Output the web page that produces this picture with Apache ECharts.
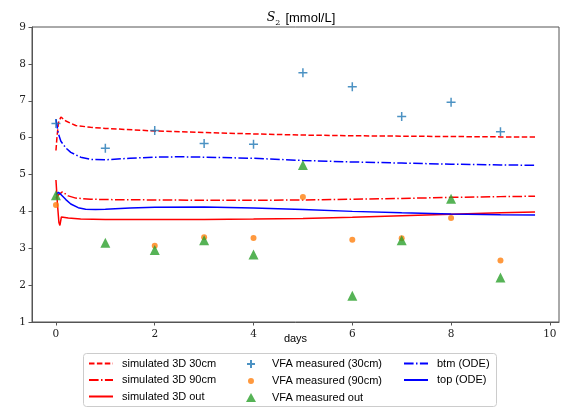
<!DOCTYPE html>
<html><head><meta charset="utf-8">
<script src="https://cdn.jsdelivr.net/npm/echarts@6/dist/echarts.min.js"></script>
<style>html,body{margin:0;padding:0;background:#fff}#c{width:566px;height:408px}</style>
</head><body><div id="c"></div>
<script>
// ---- data ----
const days = [0,1,2,3,4,5,6,7,8,9];
const vfa30 = [6.38,5.71,6.19,5.84,5.82,7.76,7.38,6.57,6.96,6.16];
const vfa90 = [4.17,null,3.07,3.30,3.28,4.39,3.23,3.27,3.82,2.67];
const vfaOut = [4.44,3.15,2.95,3.22,2.83,5.26,1.71,3.22,4.34,2.21];

const tSim30 = [0,0.02,0.05,0.1,0.2,0.4,0.7,1,2,3,4,5,6,7,8,9,9.7];
const sim30  = [5.65,6.0,6.4,6.56,6.45,6.33,6.28,6.25,6.18,6.14,6.10,6.07,6.05,6.04,6.03,6.02,6.02];
const tSim90 = [0,0.05,0.13,0.25,0.4,0.7,1,2,3,4,5,6,7,8,9,9.7];
const sim90  = [4.35,4.45,4.53,4.42,4.36,4.33,4.32,4.31,4.30,4.30,4.31,4.33,4.35,4.38,4.40,4.41];
const tSimOut = [0,0.03,0.06,0.08,0.11,0.15,0.25,0.5,1,2,3,4,5,6,7,8,9,9.7];
const simOut  = [4.85,4.2,3.7,3.62,3.85,3.88,3.82,3.79,3.78,3.78,3.78,3.79,3.81,3.84,3.88,3.92,3.96,3.98];
const tBtm = [0,0.05,0.1,0.2,0.3,0.5,0.7,1,1.5,2,2.5,3,4,5,6,7,8,9,9.7];
const btmOde  = [6.5,6.1,5.9,5.72,5.6,5.47,5.41,5.40,5.44,5.47,5.48,5.47,5.44,5.38,5.34,5.31,5.28,5.26,5.25];
const tTop = [0,0.05,0.1,0.2,0.3,0.45,0.6,0.8,1,1.5,2,3,4,5,6,7,8,9,9.7];
const topOde  = [4.45,4.52,4.46,4.32,4.2,4.1,4.06,4.05,4.06,4.09,4.11,4.12,4.09,4.05,4.0,3.96,3.93,3.91,3.9];
const xTicks = [0,2,4,6,8,10];

const pairs = (xs, ys) => xs.map((x,i)=>[x,ys[i]]).filter(p=>p[1]!==null);

const chart = echarts.init(document.getElementById('c'), null, {renderer:'canvas'});
const dashed = [5.5,2.4], dashdot = [9.6,2.4,1.5,2.4];
const lineSeries = (name, t, v, color, type) => ({
  name, type:'line', data: pairs(t,v), symbol:'none', showSymbol:false,
  lineStyle:{color, width:1.5, type}, itemStyle:{color}, z:2, animation:false
});
const serif = 'DejaVu Serif';
const sans = 'Liberation Sans';
const legTxt = {fontFamily:sans, fontSize:11, lineHeight:10, color:'#000', padding:[0,0,0,4]};
const legBase = {top:358, padding:0, orient:'vertical', itemWidth:24, itemHeight:10, itemGap:5.5, textStyle:legTxt, selectedMode:false};

chart.setOption({
  animation:false,
  title:{text:'{i|S}{s|2} {t|[mmol/L]}', left:296, top:4, textAlign:'center',
    textStyle:{fontWeight:'normal', rich:{
      i:{fontFamily:serif, fontStyle:'italic', fontWeight:'normal', fontSize:12.5, color:'#000'},
      s:{fontFamily:serif, fontWeight:'normal', fontSize:8, color:'#000', verticalAlign:'bottom', padding:[5,0,0,0]},
      t:{fontFamily:sans, fontWeight:'normal', fontSize:13, color:'#000'}}}},
  grid:{left:32, right:7, top:27, bottom:86, show:true, borderColor:'#555', borderWidth:1},
  xAxis:{type:'value', min:-0.485, max:10.185,
    name:'days', nameLocation:'middle', nameGap:11, nameMoveOverlap:false,
    nameTextStyle:{fontFamily:sans, fontSize:11, color:'#000'},
    axisLine:{show:true, onZero:false, lineStyle:{color:'#555', width:1}},
    axisTick:{show:true, length:3.5, customValues:xTicks, lineStyle:{color:'#555'}},
    axisLabel:{customValues:xTicks, margin:7, fontFamily:serif, fontSize:10.5, color:'#222'},
    splitLine:{show:false}},
  yAxis:{type:'value', min:1, max:9, interval:1,
    axisLine:{show:true, onZero:false, lineStyle:{color:'#555', width:1}},
    axisTick:{show:true, length:3.5, lineStyle:{color:'#555'}},
    axisLabel:{margin:6, fontFamily:serif, fontSize:10.5, color:'#222'},
    splitLine:{show:false}},
  legend:[
    Object.assign({}, legBase, {left:88, itemStyle:{opacity:0}, data:['simulated 3D 30cm','simulated 3D 90cm','simulated 3D out']}),
    Object.assign({}, legBase, {left:245, itemWidth:10, textStyle:Object.assign({}, legTxt, {padding:[0,0,0,11]}), data:[
      {name:'VFA measured (30cm)', icon:'path://M0,0M10,10M5,1L5,9M1,5L9,5'},
      {name:'VFA measured (90cm)', icon:'path://M0,0M10,10M5,2A3,3 0 1 1 4.99,2Z'},
      {name:'VFA measured out', icon:'path://M0,0M10,10M5,0.5L10,9.5L0,9.5Z'}]}),
    Object.assign({}, legBase, {left:403, itemStyle:{opacity:0}, data:['btm (ODE)','top (ODE)']})
  ],
  graphic:[{type:'rect', shape:{x:83.5, y:353.5, width:413, height:53, r:3},
    style:{fill:'rgba(255,255,255,0.8)', stroke:'#ccc', lineWidth:1}, z:-1}],
  series:[
    lineSeries('simulated 3D 30cm', tSim30, sim30, '#ff0000', dashed),
    lineSeries('simulated 3D 90cm', tSim90, sim90, '#ff0000', dashdot),
    lineSeries('simulated 3D out', tSimOut, simOut, '#ff0000', 'solid'),
    {name:'VFA measured (30cm)', type:'scatter', data:pairs(days,vfa30),
      symbol:'path://M5,0L5,10M0,5L10,5', symbolSize:9,
      itemStyle:{color:'rgba(0,0,0,0)', borderColor:'#1f77b4', borderWidth:1.5}, z:3},
    {name:'VFA measured (90cm)', type:'scatter', data:pairs(days,vfa90),
      symbol:'circle', symbolSize:6, itemStyle:{color:'#ff7f0e'}, z:3},
    {name:'VFA measured out', type:'scatter', data:pairs(days,vfaOut),
      symbol:'triangle', symbolSize:10, itemStyle:{color:'#2ca02c'}, z:4},
    lineSeries('btm (ODE)', tBtm, btmOde, '#0000ff', dashdot),
    lineSeries('top (ODE)', tTop, topOde, '#0000ff', 'solid')
  ]
});
</script></body></html>
